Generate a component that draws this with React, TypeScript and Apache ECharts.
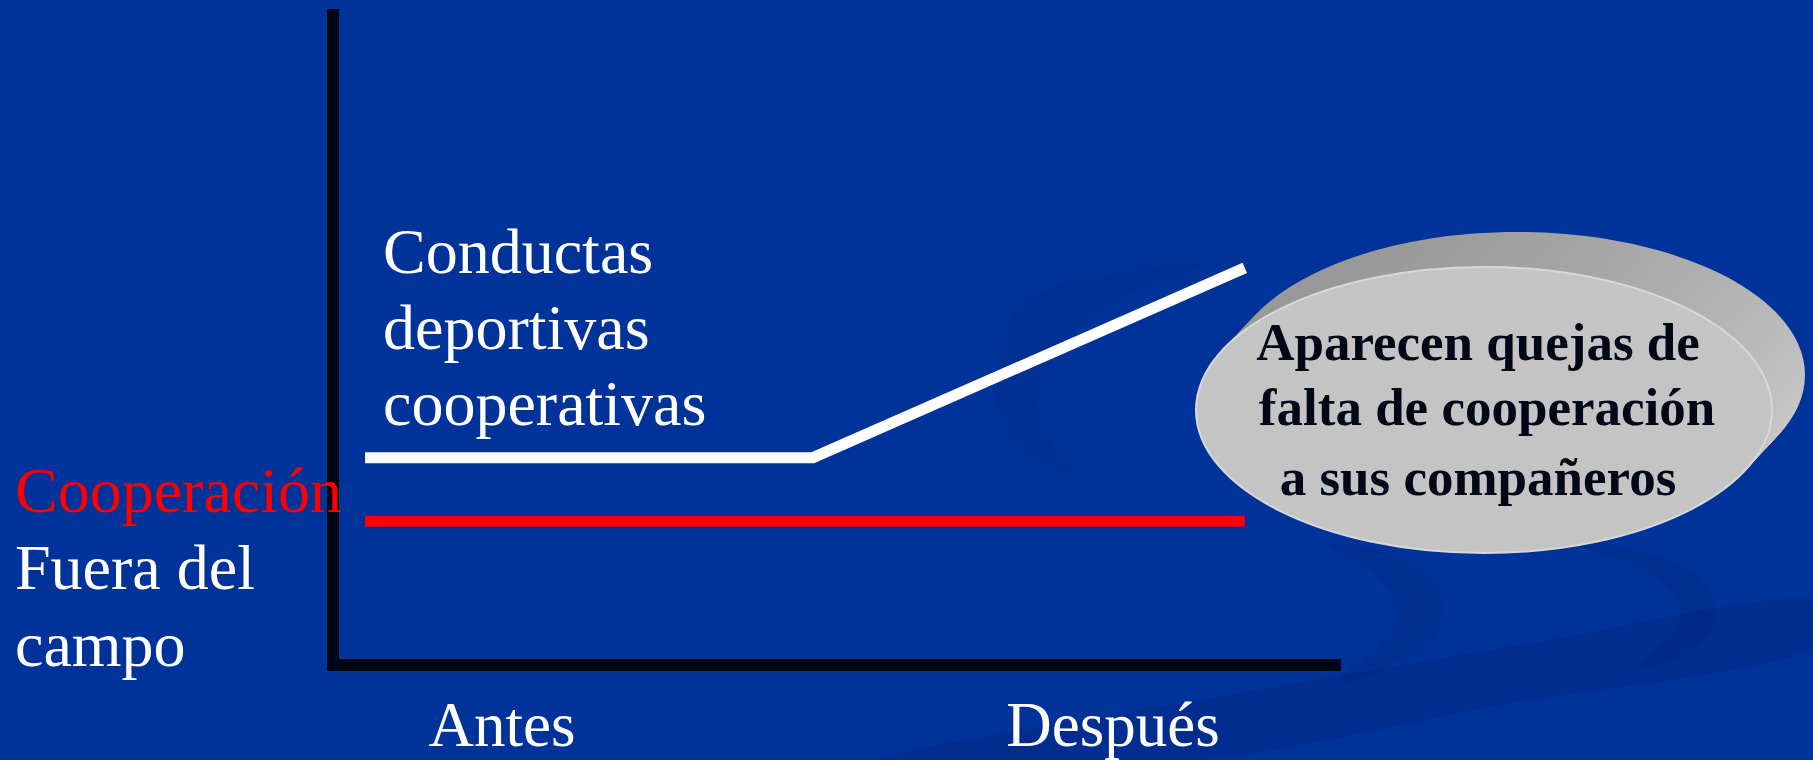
import React, { useEffect, useRef } from "react";
import * as echarts from "echarts";

// ---- data ----
const whiteX = [3.2, 47.9, 91.0];
const whiteY = [31.9, 31.9, 61.1];
const redX = [3.2, 91.0];
const redY = [22.1, 22.1];
const periodLabels = ["Antes", "Después"];
const seriesLabel = ["Conductas", "deportivas", "cooperativas"];
const levelRed = "Cooperación";
const levelWhite = ["Fuera del", "campo"];
const bubbleLines = ["Aparecen quejas de", "falta de cooperación", "a sus compañeros"];

const SERIF = "'Liberation Serif', 'Times New Roman', serif";
const BG = "#003399";
const AXIS = "#000612";

export default function App() {
  const ref = useRef<HTMLDivElement>(null);

  useEffect(() => {
    document.body.style.margin = "0";
    document.body.style.overflow = "hidden";
    const chart = echarts.init(ref.current!, null, { renderer: "svg" });

    // extruded disk (bubble)
    const cx = 1484, cy = 410, rx = 288, ry = 143, dx = 33, dy = -35;
    const steps = 18;
    const disk: any[] = [];
    for (let k = steps; k >= 1; k--) {
      disk.push({
        type: "ellipse",
        z: 5,
        shape: { cx: cx + (dx * k) / steps, cy: cy + (dy * k) / steps, rx, ry },
        style: {
          fill: new echarts.graphic.LinearGradient(0, 0, 1, 1, [
            { offset: 0, color: "#8e8e8e" },
            { offset: 0.55, color: "#b4b4b4" },
            { offset: 1, color: "#d4d4d4" },
          ]),
        },
        silent: true,
      });
    }
    disk.push({
      type: "ellipse",
      z: 6,
      shape: { cx, cy, rx, ry },
      style: { fill: "#c4c4c4", stroke: "#d8d8d8", lineWidth: 2 },
      silent: true,
    });
    const bubbleY = [342, 407, 477];
    const bubbleXc = [1478, 1487, 1478];
    bubbleLines.forEach((t, i) => {
      disk.push({
        type: "text",
        z: 7,
        x: bubbleXc[i],
        y: bubbleY[i],
        style: {
          text: t,
          fill: "#000818",
          font: `bold 53px ${SERIF}`,
          textAlign: "center",
          textVerticalAlign: "middle",
        },
      });
    });

    const swooshes: any[] = [
      {
        type: "polygon",
        z: -5,
        shape: {
          points: [[880, 760], [1200, 700], [1550, 640], [1813, 598], [1813, 650], [1500, 705], [1200, 760]],
          smooth: 0.3,
        },
        style: { fill: "rgba(0,25,105,0.2)" },
        silent: true,
      },
      {
        type: "polygon",
        z: -5,
        shape: {
          points: [[1560, 540], [1680, 565], [1715, 610], [1690, 650], [1640, 665], [1680, 620], [1650, 575]],
          smooth: 0.5,
        },
        style: { fill: "rgba(0,25,105,0.16)" },
        silent: true,
      },
      {
        type: "polygon",
        z: -5,
        shape: {
          points: [[1330, 545], [1420, 570], [1440, 620], [1400, 660], [1340, 680], [1395, 625], [1385, 585]],
          smooth: 0.5,
        },
        style: { fill: "rgba(0,25,105,0.16)" },
        silent: true,
      },
      {
        type: "polygon",
        z: -5,
        shape: {
          points: [[1030, 300], [1110, 275], [1200, 265], [1120, 300], [1060, 350], [1040, 420], [1080, 480], [1010, 430], [1000, 360]],
          smooth: 0.5,
        },
        style: { fill: "rgba(0,25,105,0.1)" },
        silent: true,
      },
    ];

    const texts: any[] = [
      {
        type: "text",
        z: 20,
        x: 383,
        y: 213,
        style: {
          text: seriesLabel.join("\n"),
          fill: "#ffffff",
          font: `64px ${SERIF}`,
          lineHeight: 76,
          textAlign: "left",
          textVerticalAlign: "top",
        },
      },
      {
        type: "text",
        z: 20,
        x: 15,
        y: 490.4,
        style: {
          text: levelRed,
          fill: "#ff0000",
          font: `64px ${SERIF}`,
          textAlign: "left",
          textVerticalAlign: "middle",
        },
      },
      {
        type: "text",
        z: 20,
        x: 15,
        y: 528.5,
        style: {
          text: levelWhite.join("\n"),
          fill: "#ffffff",
          font: `64px ${SERIF}`,
          lineHeight: 77,
          textAlign: "left",
          textVerticalAlign: "top",
        },
      },
    ];

    const option: any = {
      animation: false,
      backgroundColor: BG,
      grid: [
        { left: 333, top: 15, right: 478, bottom: 95, containLabel: false },
        { left: 196.5, width: 1222, top: 15, bottom: 95, containLabel: false },
      ],
      xAxis: [
        {
          type: "value",
          gridIndex: 0,
          min: 0,
          max: 100,
          axisLine: { show: true, onZero: false, lineStyle: { color: AXIS, width: 12, cap: "square" } },
          axisTick: { show: false },
          axisLabel: { show: false },
          splitLine: { show: false },
        },
        {
          type: "category",
          gridIndex: 1,
          data: periodLabels,
          boundaryGap: true,
          axisLine: { show: false },
          axisTick: { show: false },
          splitLine: { show: false },
          axisLabel: {
            color: "#ffffff",
            fontSize: 63,
            fontFamily: SERIF,
            margin: 28,
          },
        },
      ],
      yAxis: [
        {
          type: "value",
          gridIndex: 0,
          min: 0,
          max: 100,
          axisLine: { show: true, onZero: false, lineStyle: { color: AXIS, width: 12, cap: "square" } },
          axisTick: { show: false },
          axisLabel: { show: false },
          splitLine: { show: false },
        },
        {
          type: "value",
          gridIndex: 1,
          show: false,
          min: 0,
          max: 100,
        },
      ],
      series: [
        {
          type: "line",
          xAxisIndex: 0,
          yAxisIndex: 0,
          data: redX.map((x, i) => [x, redY[i]]),
          showSymbol: false,
          symbol: "none",
          lineStyle: { color: "#ff0000", width: 11, cap: "butt", join: "miter" },
          silent: true,
          z: 3,
        },
        {
          type: "line",
          xAxisIndex: 0,
          yAxisIndex: 0,
          data: whiteX.map((x, i) => [x, whiteY[i]]),
          showSymbol: false,
          symbol: "none",
          lineStyle: { color: "#ffffff", width: 11, cap: "butt", join: "miter" },
          silent: true,
          z: 3,
        },
      ],
      graphic: [...swooshes, ...disk, ...texts],
    };

    chart.setOption(option);
    return () => chart.dispose();
  }, []);

  return (
    <div
      ref={ref}
      style={{ position: "absolute", left: 0, top: 0, width: 1813, height: 760 }}
    />
  );
}
